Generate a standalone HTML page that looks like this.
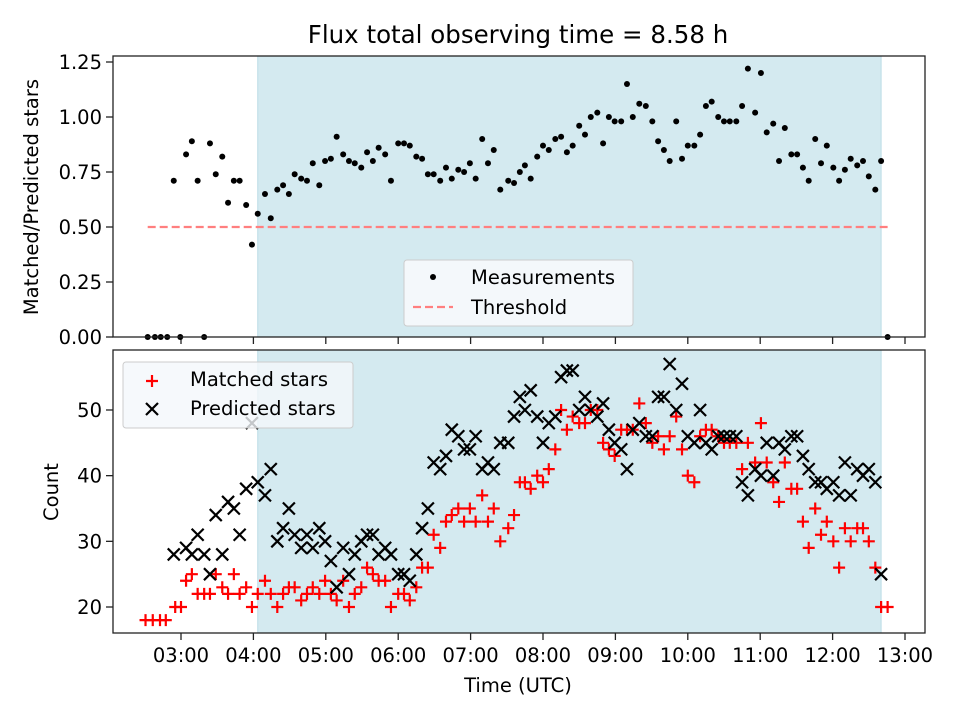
<!DOCTYPE html>
<html><head><meta charset="utf-8">
<style>
body{margin:0;background:#fff;}
svg text{font-family:"DejaVu Sans","Liberation Sans",sans-serif;fill:#000;}
</style></head>
<body>
<svg id="chart" width="960" height="720" viewBox="0 0 960 720" xmlns="http://www.w3.org/2000/svg">
<rect width="960" height="720" fill="#fff"/>
<text x="518" y="43" font-size="24.5" text-anchor="middle">Flux total observing time = 8.58 h</text>
<g id="top"></g>
<g id="bot"></g>
</svg>
<script>
const commonTimes = [
3.07,3.15,3.23,3.32,3.40,3.48,3.57,3.65,3.73,3.81,
3.90,3.98,4.06,4.16,4.24,4.33,4.41,4.49,4.57,4.66,
4.74,4.82,4.91,4.99,5.07,5.15,5.24,5.32,5.40,5.49,
5.57,5.65,5.73,5.82,5.90,6.00,6.08,6.16,6.25,6.33,
6.41,6.49,6.58,6.66,6.74,6.83,6.91,6.99,7.07,7.16,
7.24,7.32,7.41,7.52,7.60,7.68,7.75,7.83,7.92,8.00,
8.08,8.17,8.25,8.33,8.41,8.50,8.58,8.66,8.75,8.83,
8.91,8.99,9.08,9.16,9.24,9.33,9.42,9.51,9.59,9.67,
9.75,9.84,9.92,10.00,10.09,10.17,10.25,10.33,10.42,10.50,
10.58,10.67,10.75,10.83,10.93,11.01,11.09,11.18,11.26,11.34,
11.43,11.51,11.59,11.67,11.76,11.84,11.92,12.01,12.09,12.17,
12.25,12.34,12.42,12.50,12.59,12.67,12.76];
const ratioTimes = [2.54,2.64,2.72,2.81,2.90,2.99].concat(commonTimes);
const ratioValues = [0,0,0,0,0.71,0,
0.83,0.89,0.71,0,0.88,0.74,0.82,0.61,0.71,0.71,
0.60,0.42,0.56,0.65,0.54,0.67,0.69,0.65,0.74,0.72,
0.71,0.79,0.69,0.80,0.81,0.91,0.83,0.80,0.79,0.77,
0.84,0.80,0.86,0.83,0.71,0.88,0.88,0.87,0.82,0.81,
0.74,0.74,0.71,0.77,0.72,0.76,0.75,0.79,0.72,0.90,
0.79,0.85,0.67,0.71,0.70,0.75,0.78,0.72,0.82,0.87,
0.85,0.90,0.91,0.84,0.87,0.96,0.92,1.00,1.02,0.88,
1.00,0.98,0.98,1.15,1.00,1.06,1.05,0.98,0.89,0.85,
0.80,0.98,0.81,0.87,0.87,0.92,1.05,1.07,1.00,0.98,
0.98,0.98,1.05,1.22,1.02,1.20,0.93,0.97,0.80,0.95,
0.83,0.83,0.77,0.71,0.90,0.79,0.87,0.77,0.71,0.76,
0.81,0.78,0.80,0.73,0.67,0.80,0];
const matchedTimes = [2.51,2.61,2.71,2.79,2.92,3.00].concat(commonTimes);
const matchedValues = [18,18,18,18,20,20,
24,25,22,22,22,25,23,22,25,22,
23,20,22,24,22,20,22,23,23,21,
22,23,22,24,22,21,24,20,22,23,
26,25,24,24,20,22,22,21,23,26,
26,31,29,33,34,35,33,35,33,37,
33,35,30,32,34,39,39,38,40,39,
41,44,50,47,49,48,48,50,50,45,
44,43,47,47,47,51,48,45,46,44,
46,49,44,40,39,46,47,47,46,45,
45,45,41,45,42,48,42,39,36,42,
38,38,33,29,35,31,33,30,26,32,
30,32,32,30,26,20,20];
const predictedTimes = [2.90].concat(commonTimes.slice(0,116));
const predictedValues = [28,
29,28,31,28,25,34,28,36,35,31,
38,48,39,37,41,30,32,35,31,29,
31,29,32,30,27,23,29,25,28,30,
31,31,28,29,28,25,25,24,28,32,
35,42,41,43,47,46,44,44,46,41,
42,41,45,45,49,52,50,53,49,45,
48,49,55,56,56,50,52,50,49,51,
47,45,44,41,47,48,46,46,52,52,
57,50,54,46,45,50,45,44,46,46,
46,46,39,37,41,40,45,40,45,44,
46,46,43,41,39,39,38,39,37,42,
37,41,40,41,39,25];
const xTickLabels = ["03:00","04:00","05:00","06:00","07:00","08:00","09:00","10:00","11:00","12:00","13:00"];
const xTickHours = [3,4,5,6,7,8,9,10,11,12,13];
const topTicks = [0,0.25,0.5,0.75,1.0,1.25];
const botTicks = [20,30,40,50];
const spanStart = 4.06, spanEnd = 12.67;
const thresholdValue = 0.5, thresholdStart = 2.54, thresholdEnd = 12.76;

const NS = "http://www.w3.org/2000/svg";
const L = 113, R = 925, FS = 19.5;
const xs = t => 181 + (t - 3) * 72.4;
const yTop = v => 337 - v * 220;
const yBot = c => 607 - (c - 20) * 6.567;
function mk(parent, tag, attrs){const e=document.createElementNS(NS,tag);for(const k in attrs)e.setAttribute(k,attrs[k]);parent.appendChild(e);return e;}

function axes(g, top, bottom, name, showXLabels){
  const sp = mk(g,'rect',{x:xs(spanStart),y:top,width:xs(spanEnd)-xs(spanStart),height:bottom-top,fill:'#d4eaf0',stroke:'#bcdde6','stroke-width':1});
  
  
  xTickHours.forEach((h,i)=>{
    const x=xs(h);
    const t=mk(g,'line',{x1:x,x2:x,y1:bottom,y2:bottom+7,stroke:'#222','stroke-width':1.3});
    
    
    if(showXLabels){
      const tx=mk(g,'text',{x:x,y:bottom+29,'font-size':FS,'text-anchor':'middle'});
      tx.textContent=xTickLabels[i];
      
      
    }
  });
}

const gt=document.getElementById('top');
axes(gt,56,337,'top',false);
topTicks.forEach(v=>{
  const y=yTop(v);
  mk(gt,'line',{x1:L-7,x2:L,y1:y,y2:y,stroke:'#222','stroke-width':1.3});
  const t=mk(gt,'text',{x:L-11,y:y+7,'font-size':FS,'text-anchor':'end'});
  t.textContent=v.toFixed(2);
  
  
});
const thr=mk(gt,'line',{x1:xs(thresholdStart),x2:xs(thresholdEnd),y1:yTop(thresholdValue),y2:yTop(thresholdValue),stroke:'#ff7f7f','stroke-width':2.2,'stroke-dasharray':'8,4'});


ratioTimes.forEach((t,i)=>{
  const c=mk(gt,'circle',{cx:xs(t),cy:yTop(ratioValues[i]),r:3,fill:'#000'});
  
  
});
const f1=mk(gt,'rect',{x:L,y:56,width:R-L,height:281,fill:'none',stroke:'#222','stroke-width':1.3});


const yl1=mk(gt,'text',{x:38,y:197,'font-size':FS,'text-anchor':'middle',transform:'rotate(-90 38 197)'});
yl1.textContent='Matched/Predicted stars';


const lg1=mk(gt,'g',{});


mk(lg1,'rect',{x:404,y:260,width:229,height:66,rx:3,fill:'#f4f8fb',stroke:'#ccc'});
mk(lg1,'circle',{cx:433,cy:277,r:3,fill:'#000'});
mk(lg1,'line',{x1:413,x2:453,y1:307,y2:307,stroke:'#ff7f7f','stroke-width':2.2,'stroke-dasharray':'8,4'});
const lt1=mk(lg1,'text',{x:471,y:284,'font-size':FS});lt1.textContent='Measurements';


const lt2=mk(lg1,'text',{x:471,y:314,'font-size':FS});lt2.textContent='Threshold';



const gb=document.getElementById('bot');
axes(gb,350,633,'bottom',true);
botTicks.forEach(v=>{
  const y=yBot(v);
  mk(gb,'line',{x1:L-7,x2:L,y1:y,y2:y,stroke:'#222','stroke-width':1.3});
  const t=mk(gb,'text',{x:L-11,y:y+7,'font-size':FS,'text-anchor':'end'});
  t.textContent=v;
  
  
});
function plus(g,x,y){mk(g,'path',{d:`M${x-6},${y}H${x+6}M${x},${y-6}V${y+6}`,stroke:'#f00','stroke-width':2.2});}
function cross(g,x,y,col){mk(g,'path',{d:`M${x-6},${y-6}L${x+6},${y+6}M${x-6},${y+6}L${x+6},${y-6}`,stroke:col||'#000','stroke-width':2.2});}
matchedTimes.forEach((t,i)=>{
  const g=mk(gb,'g',{});
  
  
  plus(g,xs(t),yBot(matchedValues[i]));
});
predictedTimes.forEach((t,i)=>{
  const g=mk(gb,'g',{});
  
  
  cross(g,xs(t),yBot(predictedValues[i]));
});
const lg2=mk(gb,'g',{});


mk(lg2,'rect',{x:123,y:362,width:230,height:66,rx:3,fill:'#f4f8fb','fill-opacity':0.8,stroke:'#ccc'});
plus(lg2,152,381);
cross(lg2,152,409);
const lt3=mk(lg2,'text',{x:190,y:386,'font-size':FS});lt3.textContent='Matched stars';


const lt4=mk(lg2,'text',{x:190,y:415,'font-size':FS});lt4.textContent='Predicted stars';


const f2=mk(gb,'rect',{x:L,y:350,width:R-L,height:283,fill:'none',stroke:'#222','stroke-width':1.3});


const yl2=mk(gb,'text',{x:58,y:492,'font-size':FS,'text-anchor':'middle',transform:'rotate(-90 58 492)'});
yl2.textContent='Count';


const xl=mk(gb,'text',{x:518,y:692,'font-size':FS,'text-anchor':'middle'});
xl.textContent='Time (UTC)';


</script>
</body></html>
